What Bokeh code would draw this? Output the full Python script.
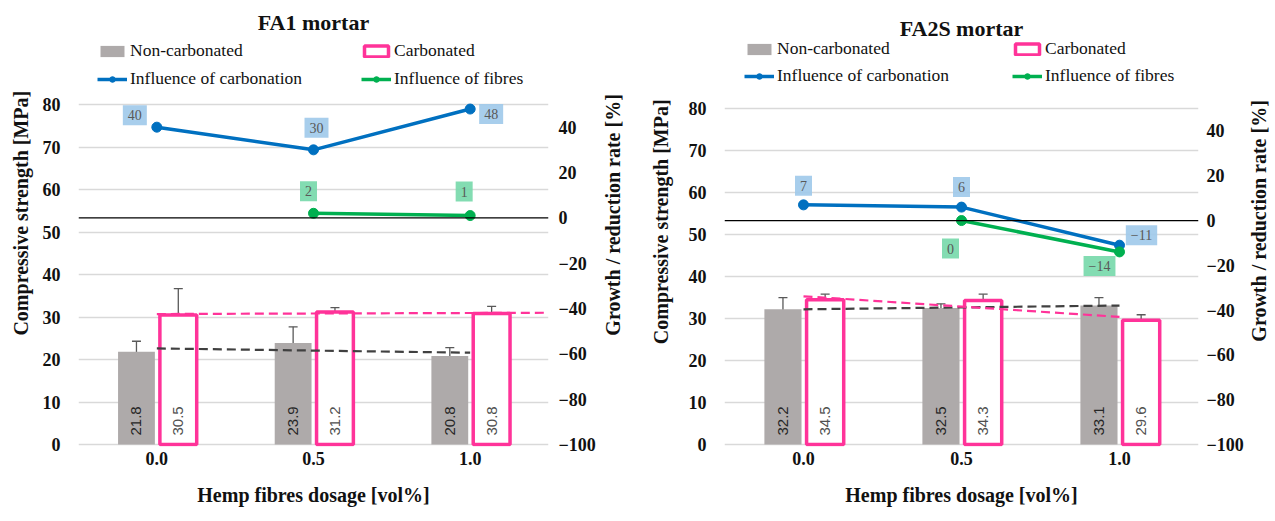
import math
import numpy as np
from bokeh.plotting import figure
from bokeh.models import (Range1d, LinearAxis, FixedTicker, ColumnDataSource,
                          Whisker, TeeHead, Span, Legend, LegendItem)
from bokeh.layouts import row
from bokeh.core.properties import value
from bokeh.embed import file_html
from bokeh.resources import INLINE

# ---------------- data ----------------
dosage = ["0.0", "0.5", "1.0"]
strength_ticks = [0, 10, 20, 30, 40, 50, 60, 70, 80]
rate_ticks = [-100, -80, -60, -40, -20, 0, 20, 40]

fa1_title = "FA1 mortar"
fa1_non = [21.8, 23.9, 20.8]
fa1_non_err = [2.5, 3.8, 2.0]
fa1_carb = [30.5, 31.2, 30.8]
fa1_carb_err = [6.2, 1.0, 1.7]
fa1_inf_carb = [40, 30, 48]
fa1_fib_dosage = ["0.5", "1.0"]
fa1_inf_fib = [2, 1]
fa1_trend_non = [22.6, 21.6]
fa1_trend_carb = [30.7, 31.0]

fa2_title = "FA2S mortar"
fa2_non = [32.2, 32.5, 33.1]
fa2_non_err = [2.8, 1.0, 1.9]
fa2_carb = [34.5, 34.3, 29.6]
fa2_carb_err = [1.3, 1.5, 1.3]
fa2_inf_carb = [7, 6, -11]
fa2_fib_dosage = ["0.5", "1.0"]
fa2_inf_fib = [0, -14]
fa2_trend_non = [32.2, 33.1]
fa2_trend_carb = [35.3, 30.4]

legend_labels = ["Non-carbonated", "Carbonated", "Influence of carbonation", "Influence of fibres"]
x_title = "Hemp fibres dosage [vol%]"
y_title = "Compressive strength [MPa]"
y2_title = "Growth / reduction rate [%]"

# ---------------- styles ----------------
GREY = "#AEAAAA"
PINK = "#FF3399"
BLUE = "#0070C0"
GREEN = "#00B050"
GRID = "#D9D9D9"
SERIF = "Liberation Serif"
SANS = "Liberation Sans"
H = 520


def fmt_rate(v):
    return ("\u2212" + str(abs(v))) if v < 0 else str(v)


def style_axis(ax, lab_standoff, title_standoff):
    ax.axis_line_color = None
    ax.major_tick_line_color = None
    ax.minor_tick_line_color = None
    ax.major_tick_out = 0
    ax.major_tick_in = 0
    ax.minor_tick_out = 0
    ax.minor_tick_in = 0
    ax.major_label_text_font = SERIF
    ax.major_label_text_font_style = "bold"
    ax.major_label_text_font_size = "18px"
    ax.major_label_text_color = "#111111"
    ax.axis_label_text_font = SERIF
    ax.axis_label_text_font_style = "bold"
    ax.axis_label_text_font_size = "20px"
    ax.axis_label_text_color = "#111111"
    ax.major_label_standoff = lab_standoff
    ax.axis_label_standoff = title_standoff


def title_strip(text, width, cx, cy):
    """Narrow figure that only carries a vertical axis title (reads bottom to top)."""
    s = figure(width=width, height=H, x_range=Range1d(0, width), y_range=Range1d(H, 0),
               x_axis_type=None, y_axis_type=None, output_backend="svg",
               toolbar_location=None, min_border=0, outline_line_color=None,
               background_fill_color="white", border_fill_color="white")
    s.xgrid.visible = False
    s.ygrid.visible = False
    s.text(x=[cx], y=[cy], text=[text], angle=math.pi / 2, text_align="center",
           text_baseline="middle", text_font=value(SERIF), text_font_style="bold",
           text_font_size="20px", text_color="#111111")
    return s


def build(d, g):
    scale = g["px80"] / 80.0           # px per MPa
    y0 = -g["zero_px"] / scale
    y1 = y0 + g["frame_h"] / scale
    k = 150.0 / 80.0                    # rate units per MPa
    p = figure(width=g["width"], height=H,
               x_range=Range1d(-0.5, 2.5), y_range=Range1d(y0, y1),
               output_backend="svg", toolbar_location=None,
               min_border_left=g["left"], min_border_right=g["right"],
               min_border_top=0, min_border_bottom=g["bottom"],
               outline_line_color=None, background_fill_color="white",
               border_fill_color="white")
    p.extra_y_ranges = {"rate": Range1d(-100 + y0 * k, -100 + y1 * k)}

    # x axis
    p.xaxis.ticker = FixedTicker(ticks=list(range(len(dosage))))
    p.xaxis.major_label_overrides = {i: s for i, s in enumerate(dosage)}
    p.xaxis.axis_label = x_title
    style_axis(p.xaxis[0], 5, 16)

    # left axis (title drawn in a strip beside the plot)
    p.yaxis.ticker = FixedTicker(ticks=strength_ticks)
    style_axis(p.yaxis[0], 18, 0)

    # right axis
    ax_r = LinearAxis(y_range_name="rate", ticker=FixedTicker(ticks=rate_ticks))
    ax_r.major_label_overrides = {t: fmt_rate(t) for t in rate_ticks}
    style_axis(ax_r, g["r_standoff"], 0)
    p.add_layout(ax_r, "right")

    p.xgrid.visible = False
    p.ygrid.ticker = FixedTicker(ticks=strength_ticks)
    p.ygrid.grid_line_color = GRID
    p.ygrid.grid_line_width = 1.5

    idx = np.arange(len(dosage))
    bw = 0.235
    xg = idx - 0.13
    xp = idx + 0.137

    rg = p.vbar(x=xg, top=d["non"], width=bw, bottom=0, fill_color=GREY, line_color=None)
    rp = p.vbar(x=xp, top=d["carb"], width=bw, bottom=0, fill_color="white",
                line_color=PINK, line_width=3.5)

    # trend lines
    p.line(x=[0, 2], y=d["trend_non"], line_color="#404040", line_width=2.2, line_dash="9 5")
    p.line(x=[0, g["carb_trend_end"]], y=d["trend_carb"], line_color=PINK, line_width=2.2,
           line_dash="9 5")

    # error bars
    for xs, vals, errs in ((xg, d["non"], d["non_err"]), (xp, d["carb"], d["carb_err"])):
        src = ColumnDataSource(dict(x=xs, up=[v + e for v, e in zip(vals, errs)],
                                    lo=[v - e for v, e in zip(vals, errs)]))
        w = Whisker(source=src, base="x", upper="up", lower="lo", line_color="#595959",
                    line_width=1.3,
                    upper_head=TeeHead(size=9, line_color="#595959", line_width=1.3),
                    lower_head=TeeHead(size=9, line_color="#595959", line_width=1.3))
        p.add_layout(w)

    # bar value labels
    p.text(x=xg, y=[0] * 3, text=[f"{v:.1f}" for v in d["non"]], angle=math.pi / 2,
           text_align="left", text_baseline="middle", y_offset=-9,
           text_font=value(SANS), text_font_size="15px", text_color="#262626")
    p.text(x=xp, y=[0] * 3, text=[f"{v:.1f}" for v in d["carb"]], angle=math.pi / 2,
           text_align="left", text_baseline="middle", y_offset=-9,
           text_font=value(SANS), text_font_size="15px", text_color="#505050")

    # zero line of the rate axis
    p.add_layout(Span(location=0, dimension="width", y_range_name="rate",
                      line_color="black", line_width=1.3))

    # influence lines
    bl = p.line(x=idx, y=d["inf_carb"], y_range_name="rate", line_color=BLUE, line_width=3.5)
    bs = p.scatter(x=idx, y=d["inf_carb"], y_range_name="rate", size=10, fill_color=BLUE,
                   line_color=BLUE)
    fx = [dosage.index(s) for s in d["fib_dosage"]]
    gl = p.line(x=fx, y=d["inf_fib"], y_range_name="rate", line_color=GREEN, line_width=3.5)
    gs = p.scatter(x=fx, y=d["inf_fib"], y_range_name="rate", size=10, fill_color=GREEN,
                   line_color=GREEN)

    # data labels with boxes
    for xs, vals, offs, col in ((idx, d["inf_carb"], g["carb_offsets"], "#9fc9ea"),
                                (fx, d["inf_fib"], g["fib_offsets"], "#76d8aa")):
        src = ColumnDataSource(dict(x=list(xs), y=list(vals),
                                    t=[fmt_rate(v) for v in vals],
                                    dx=[o[0] for o in offs], dy=[o[1] for o in offs]))
        p.text(x="x", y="y", text="t", source=src, y_range_name="rate",
               x_offset="dx", y_offset="dy", text_align="center", text_baseline="middle",
               text_font=value(SERIF), text_font_size="14px", text_color="#595959",
               background_fill_color=col, background_fill_alpha=0.9, padding=5)

    # title
    p.text(x=[1], y=[y1 - g["title_dy"] / scale], text=[d["title"]], text_align="center",
           text_baseline="middle", text_font=value(SERIF), text_font_style="bold",
           text_font_size="22px", text_color="#111111")

    # legends
    rows = [[(legend_labels[0], [rg]), (legend_labels[1], [rp])],
            [(legend_labels[2], [bl, bs]), (legend_labels[3], [gl, gs])]]
    for items, ly in zip(rows, g["legend_y"]):
        leg = Legend(items=[LegendItem(label=lab, renderers=rs) for lab, rs in items],
                     location=(g["legend_x"], ly), orientation="horizontal",
                     label_text_font=SERIF, label_text_font_size="17.5px",
                     label_text_color="#111111", glyph_width=30, glyph_height=14,
                     label_height=20, label_width=g["legend_col"] - 33, label_standoff=3,
                     spacing=0, padding=0, margin=0, background_fill_alpha=0,
                     border_line_alpha=0)
        p.add_layout(leg, "center")
    return p


d1 = dict(title=fa1_title, non=fa1_non, non_err=fa1_non_err, carb=fa1_carb,
          carb_err=fa1_carb_err, inf_carb=fa1_inf_carb, fib_dosage=fa1_fib_dosage,
          inf_fib=fa1_inf_fib, trend_non=fa1_trend_non, trend_carb=fa1_trend_carb)
d2 = dict(title=fa2_title, non=fa2_non, non_err=fa2_non_err, carb=fa2_carb,
          carb_err=fa2_carb_err, inf_carb=fa2_inf_carb, fib_dosage=fa2_fib_dosage,
          inf_fib=fa2_inf_fib, trend_non=fa2_trend_non, trend_carb=fa2_trend_carb)

# page layout: [l1 34][p1 564][r1 28][l2 50][p2 570][r2 24]
g1 = dict(width=564, left=44, right=49, bottom=74, frame_h=446, zero_px=2,
          px80=340, title_dy=22, r_standoff=10,
          carb_trend_end=2.5, legend_x=19, legend_y=(385, 357), legend_col=264,
          carb_offsets=[(-22, -12), (3, -22), (21, 5)], fib_offsets=[(-5, -22), (-6, -24)])
g2 = dict(width=570, left=48, right=47, bottom=66, frame_h=454, zero_px=2,
          px80=342, title_dy=29, r_standoff=8,
          carb_trend_end=2, legend_x=20, legend_y=(387, 360), legend_col=268,
          carb_offsets=[(0, -19), (0, -20), (22, -10)], fib_offsets=[(-11, 28), (-20, 14)])

l1 = title_strip(y_title, 34, 20, 248)
p1 = build(d1, g1)
r1 = title_strip(y2_title, 28, 14, 250)
l2 = title_strip(y_title, 50, 34, 258)
p2 = build(d2, g2)
r2 = title_strip(y2_title, 24, 12, 257)
layout = row(l1, p1, r1, l2, p2, r2)
open("out.html", "w").write(file_html(layout, INLINE))
